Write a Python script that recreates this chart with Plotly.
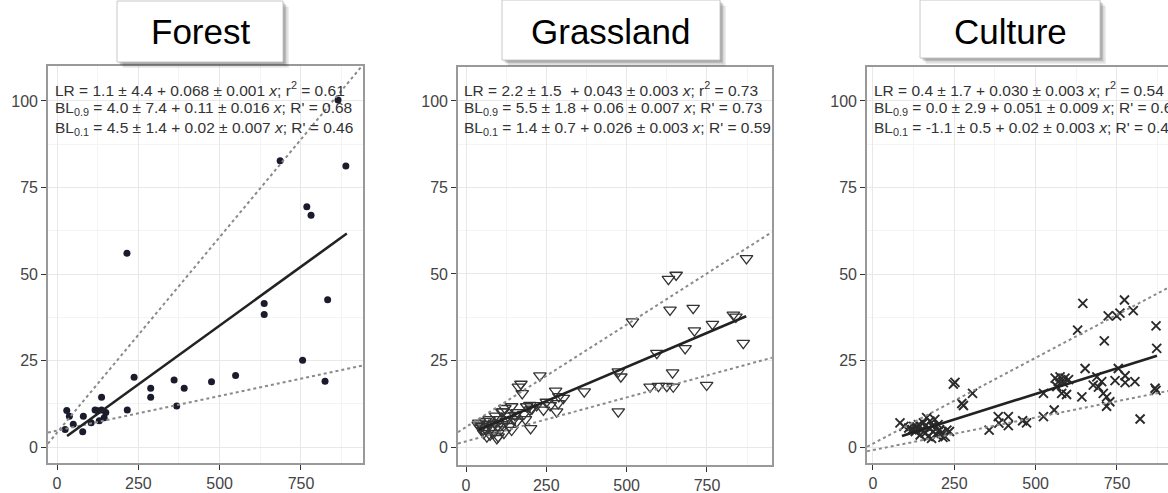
import plotly.graph_objects as go

W, H = 1168, 493

# ---------------- data ----------------
panel_titles = ["Forest", "Grassland", "Culture"]
x_ticks = [0, 250, 500, 750]
x_tick_labels = ["0", "250", "500", "750"]
x_minor = [125, 375, 625, 875]
y_ticks = [0, 25, 50, 75, 100]
y_tick_labels = ["0", "25", "50", "75", "100"]
y_minor = [12.5, 37.5, 62.5, 87.5]

forest_x = [25, 30, 38, 50, 79, 81, 105, 117, 125, 130, 137, 137, 145, 150,
            216, 215, 237, 288, 288, 360, 368, 391, 475, 549, 637, 637, 686,
            755, 768, 781, 824, 832, 864, 888]
forest_y = [5.1, 10.6, 8.9, 6.6, 4.4, 8.9, 7.0, 10.7, 10.5, 7.6, 14.4, 10.7, 8.5, 10.0,
            10.7, 56.0, 20.2, 17.0, 14.4, 19.4, 11.9, 17.0, 18.9, 20.7, 41.5, 38.3, 82.7,
            25.1, 69.4, 67.0, 19.0, 42.6, 100.3, 81.2]

grass_x = [873, 630, 654, 635, 707, 518, 711, 767, 832, 840, 863, 682, 594, 643,
           749, 573, 599, 625, 645, 474, 482, 474, 368, 279, 289, 303, 282, 287,
           230, 171, 163, 175, 241, 199, 142, 121, 115, 111, 189, 199, 152, 158,
           142, 201, 96, 75, 54, 38,
           40, 45, 50, 55, 60, 62, 65, 70, 72, 80, 85, 88, 92, 98, 100, 105, 108,
           112, 118, 125, 130, 135, 148, 160, 180, 185, 205, 220, 250, 262]
grass_y = [54.5, 48.5, 49.7, 39.6, 40.1, 36.2, 33.6, 35.5, 38.2, 37.6, 30.0, 28.5, 27.1, 21.5,
           17.9, 17.4, 17.6, 17.6, 17.4, 21.8, 20.3, 10.2, 16.0, 16.2, 14.6, 14.1, 10.2, 12.6,
           20.6, 18.2, 17.4, 15.5, 10.7, 12.1, 11.7, 11.2, 10.2, 10.2, 11.7, 10.7, 9.2, 7.3,
           4.9, 5.4, 2.5, 3.5, 4.9, 6.4,
           7.0, 5.5, 6.0, 4.0, 7.5, 5.0, 3.0, 6.5, 8.0, 5.5, 4.0, 7.0, 9.0, 6.0, 3.0, 8.0, 5.0,
           6.5, 4.0, 7.5, 9.0, 6.0, 8.0, 10.0, 9.5, 8.0, 11.0, 12.0, 13.0, 12.0]

cult_x = [645, 773, 800, 723, 749, 759, 629, 870, 711, 872, 652, 754, 775, 744,
          805, 775, 688, 677, 703, 693, 708, 718, 728, 718, 642, 867, 870, 821,
          560, 575, 590, 601, 570, 585, 580, 595, 565, 524, 557, 524, 472, 460,
          416, 416, 385, 387, 357, 306, 273, 278, 247, 252, 83, 227, 222, 95,
          110, 120, 125, 130, 135, 140, 145, 150, 155, 160, 160, 165, 170, 172,
          175, 180, 182, 185, 190, 195, 200, 205, 210, 215, 235]
cult_y = [41.5, 42.5, 39.4, 37.9, 37.9, 38.7, 33.8, 35.0, 30.7, 28.5, 22.7, 22.7, 20.6, 19.2,
          18.9, 18.6, 20.3, 17.9, 18.9, 17.3, 15.5, 14.5, 13.1, 11.8, 14.5, 17.0, 16.4, 8.1,
          19.9, 20.3, 19.9, 19.5, 18.9, 18.6, 15.5, 15.2, 17.5, 15.5, 10.7, 8.8, 7.0, 7.6,
          8.8, 6.2, 8.8, 6.9, 4.9, 15.5, 12.6, 12.0, 18.2, 18.7, 7.0, 4.9, 3.0, 6.0,
          5.5, 5.0, 6.0, 4.5, 5.8, 6.5, 3.5, 5.0, 7.0, 4.0, 6.0, 8.5, 3.0, 5.5,
          7.5, 2.5, 6.0, 4.5, 8.0, 3.5, 6.5, 5.0, 4.0, 2.8, 4.5]

forest_lr_x, forest_lr_y = [31, 891], [3.2, 61.7]
forest_bl09_x, forest_bl09_y = [-28, 941], [1.0, 110.5]
forest_bl01_x, forest_bl01_y = [-28, 941], [4.2, 23.6]
grass_lr_x, grass_lr_y = [40, 872], [5.0, 37.8]
grass_bl09_x, grass_bl09_y = [-25, 952], [4.3, 62.1]
grass_bl01_x, grass_bl01_y = [-25, 952], [1.0, 25.8]
cult_lr_x, cult_lr_y = [89, 873], [3.2, 26.4]
cult_bl09_x, cult_bl09_y = [-18, 907], [0.1, 46.0]
cult_bl01_x, cult_bl01_y = [-18, 907], [-1.2, 16.2]

forest_eq = ["LR = 1.1 ± 4.4 + 0.068 ± 0.001 <i>x</i>; r<sup>2</sup> = 0.61",
             "BL<sub>0.9</sub> = 4.0 ± 7.4 + 0.11 ± 0.016 <i>x</i>; R' = 0.68",
             "BL<sub>0.1</sub> = 4.5 ± 1.4 + 0.02 ± 0.007 <i>x</i>; R' = 0.46"]
grass_eq = ["LR = 2.2 ± 1.5 \u00a0+ 0.043 ± 0.003 <i>x</i>; r<sup>2</sup> = 0.73",
            "BL<sub>0.9</sub> = 5.5 ± 1.8 + 0.06 ± 0.007 <i>x</i>; R' = 0.73",
            "BL<sub>0.1</sub> = 1.4 ± 0.7 + 0.026 ± 0.003 <i>x</i>; R' = 0.59"]
cult_eq = ["LR = 0.4 ± 1.7 + 0.030 ± 0.003 <i>x</i>; r<sup>2</sup> = 0.54",
           "BL<sub>0.9</sub> = 0.0 ± 2.9 + 0.051 ± 0.009 <i>x</i>; R' = 0.6",
           "BL<sub>0.1</sub> = -1.1 ± 0.5 + 0.02 ± 0.003 <i>x</i>; R' = 0.4"]

# ---------------- layout helpers ----------------
def px_x(p):
    return p / W

def px_y(p):
    return 1 - p / H

# panel pixel boxes: left, right, top, bottom ; axis ranges
panels = [
    dict(box=(48, 363, 66, 463), xr=[-27.7, 940.7], yr=[-4.6, 110.1], mirror_y=True),
    dict(box=(458, 772, 67, 465), xr=[-24.9, 952.4], yr=[-5.2, 109.8], mirror_y=True),
    dict(box=(867, 1168, 67, 463), xr=[-18.4, 906.8], yr=[-4.6, 109.8], mirror_y=False),
]

fig = go.Figure()

TICKFONT = dict(family="Liberation Sans, Arial, sans-serif", size=16, color="#444444")
EQFONT = dict(family="Liberation Sans, Arial, sans-serif", size=15.5, color="#333333")

layout = dict(width=W, height=H, margin=dict(l=0, r=0, t=0, b=0),
              paper_bgcolor="white", plot_bgcolor="white", showlegend=False)

for i, p in enumerate(panels):
    l, r, t, b = p["box"]
    sx = "" if i == 0 else str(i + 1)
    layout["xaxis" + sx] = dict(
        domain=[px_x(l), px_x(r)], range=p["xr"], anchor="y" + sx,
        tickmode="array", tickvals=x_ticks, ticktext=x_tick_labels,
        ticks="outside", ticklen=5, tickwidth=1.2, tickcolor="#333333",
        showline=True, linecolor="#999999", linewidth=1.6, mirror=True,
        showgrid=True, gridcolor="#e8e8e8", gridwidth=1.3, zeroline=False,
        minor=dict(tickmode="array", tickvals=x_minor, showgrid=True,
                   gridcolor="#f4f4f4", gridwidth=1, ticks=""),
        tickfont=TICKFONT, fixedrange=True)
    layout["yaxis" + sx] = dict(
        domain=[px_y(b), px_y(t)], range=p["yr"], anchor="x" + sx,
        tickmode="array", tickvals=y_ticks, ticktext=y_tick_labels,
        ticks="outside", ticklen=5, tickwidth=1.2, tickcolor="#333333",
        showline=True, linecolor="#999999", linewidth=1.6, mirror=p["mirror_y"],
        showgrid=True, gridcolor="#e8e8e8", gridwidth=1.3, zeroline=False,
        minor=dict(tickmode="array", tickvals=y_minor, showgrid=True,
                   gridcolor="#f4f4f4", gridwidth=1, ticks=""),
        tickfont=TICKFONT, fixedrange=True)

fig.update_layout(**layout)

def add_lines(ax, lr, bl09, bl01):
    xa, ya = ("x", "y") if ax == 1 else ("x%d" % ax, "y%d" % ax)
    for (lx, ly) in (bl09, bl01):
        fig.add_trace(go.Scatter(x=lx, y=ly, mode="lines", xaxis=xa, yaxis=ya,
                                 line=dict(color="#8a8a8a", width=2, dash="dot"),
                                 hoverinfo="skip"))
    fig.add_trace(go.Scatter(x=lr[0], y=lr[1], mode="lines", xaxis=xa, yaxis=ya,
                             line=dict(color="#222222", width=2.6), hoverinfo="skip"))

# forest
fig.add_trace(go.Scatter(x=forest_x, y=forest_y, mode="markers", xaxis="x", yaxis="y",
                         marker=dict(symbol="circle", size=7, color="#1b1b2e")))
add_lines(1, (forest_lr_x, forest_lr_y), (forest_bl09_x, forest_bl09_y), (forest_bl01_x, forest_bl01_y))

# grassland
fig.add_trace(go.Scatter(x=grass_x, y=grass_y, mode="markers", xaxis="x2", yaxis="y2",
                         marker=dict(symbol="triangle-down-open", size=11, color="#333333",
                                     line=dict(width=1.3, color="#333333"))))
add_lines(2, (grass_lr_x, grass_lr_y), (grass_bl09_x, grass_bl09_y), (grass_bl01_x, grass_bl01_y))

# culture
fig.add_trace(go.Scatter(x=cult_x, y=cult_y, mode="markers", xaxis="x3", yaxis="y3",
                         marker=dict(symbol="x-thin-open", size=9, color="#2a2a2a",
                                     line=dict(width=1.9, color="#2a2a2a"))))
add_lines(3, (cult_lr_x, cult_lr_y), (cult_bl09_x, cult_bl09_y), (cult_bl01_x, cult_bl01_y))

# equations
eq_sets = [forest_eq, grass_eq, cult_eq]
eq_x = [53, 462, 872]
eq_y = [89, 108.5, 128]
for k, eqs in enumerate(eq_sets):
    for j, txt in enumerate(eqs):
        fig.add_annotation(x=px_x(eq_x[k]), y=px_y(eq_y[j]), xref="paper", yref="paper",
                           text=txt, showarrow=False, xanchor="left", yanchor="middle",
                           font=EQFONT, align="left")

# title boxes with drop shadows
title_boxes = [(117, 283, 1, 62), (502, 720, 0, 60), (920, 1100, 0, 58)]
shapes = []
for (x0, x1, y0, y1) in title_boxes:
    for off, op in ((6, 0.07), (4.5, 0.09), (3, 0.13), (1.5, 0.16)):
        shapes.append(dict(type="rect", xref="paper", yref="paper",
                           x0=px_x(x0 + off), x1=px_x(x1 + off),
                           y0=px_y(y1 + off), y1=px_y(y0 + off),
                           fillcolor="rgba(0,0,0,%g)" % op, line=dict(width=0), layer="above"))
    shapes.append(dict(type="rect", xref="paper", yref="paper",
                       x0=px_x(x0), x1=px_x(x1), y0=px_y(y1), y1=px_y(y0),
                       fillcolor="white", line=dict(color="#c8c8c8", width=1), layer="above"))
fig.update_layout(shapes=shapes)

for (x0, x1, y0, y1), name in zip(title_boxes, panel_titles):
    fig.add_annotation(x=px_x((x0 + x1) / 2), y=px_y(31), xref="paper", yref="paper",
                       text=name, showarrow=False, xanchor="center", yanchor="middle",
                       font=dict(family="Liberation Sans, Arial, sans-serif", size=35, color="black"))

fig.write_html("out.html", config={"displayModeBar": False},
               post_script="document.body.style.margin='0';document.body.style.overflow='hidden';")
